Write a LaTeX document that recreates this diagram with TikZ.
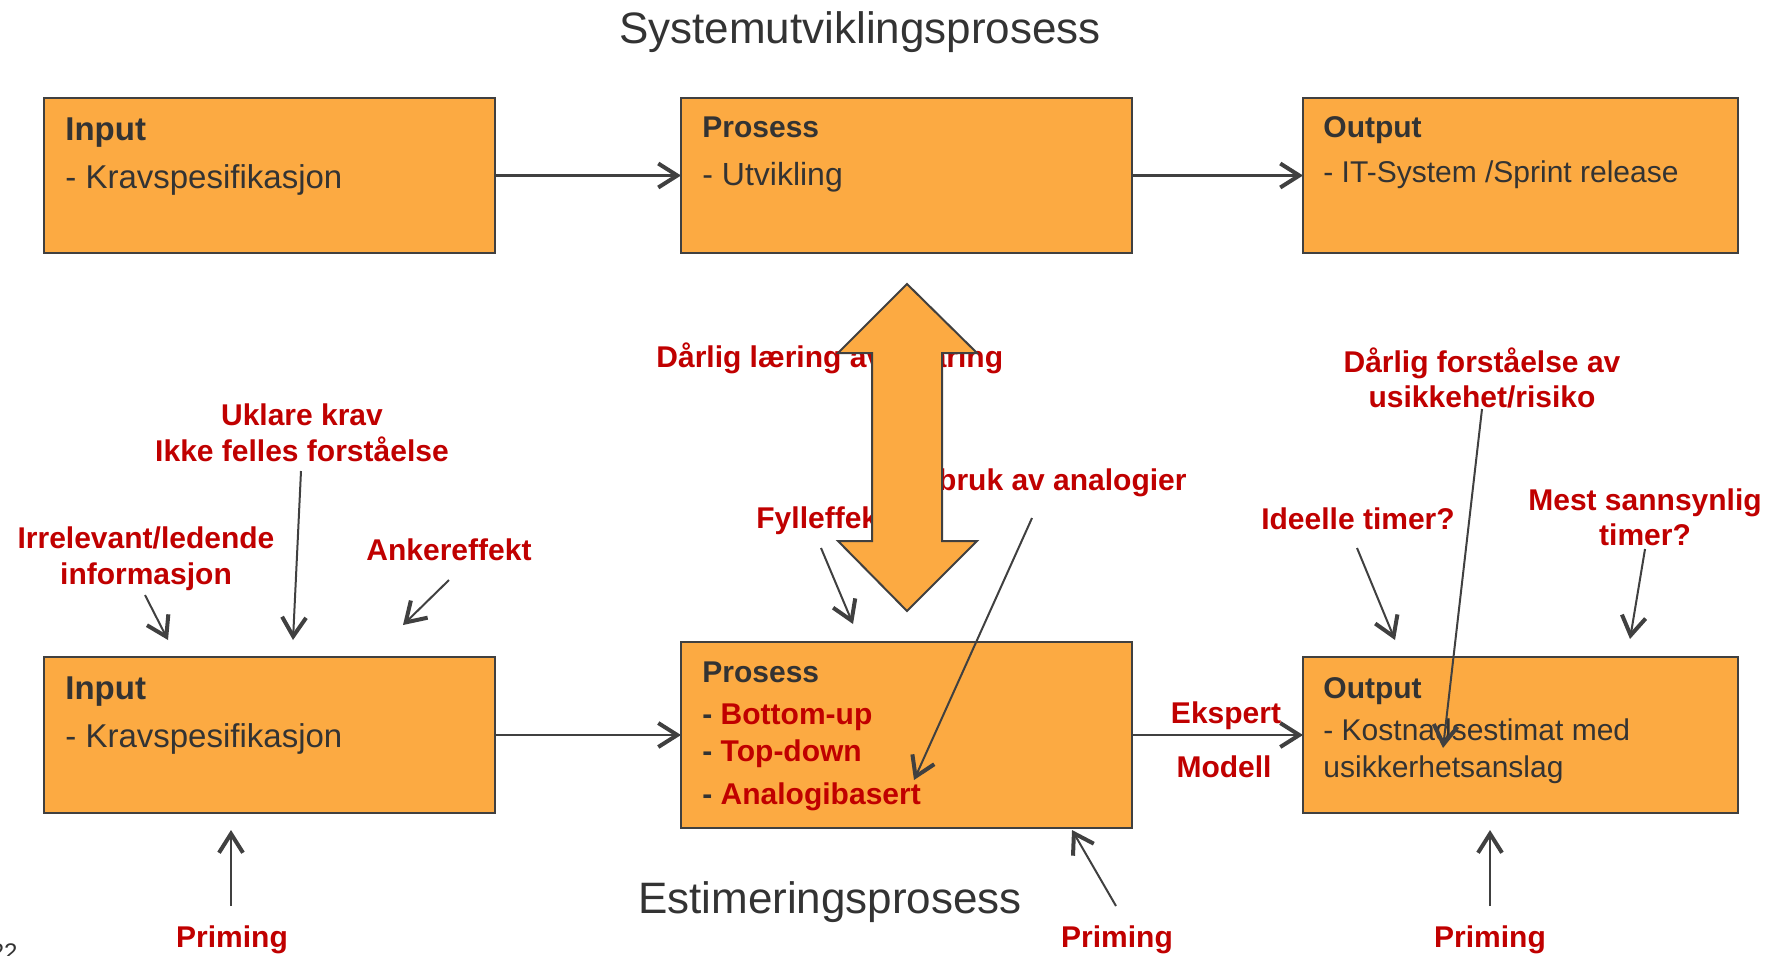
\documentclass[tikz,border=0pt]{standalone}
\usepackage{fontspec}
\setmainfont{Liberation Sans}
\usetikzlibrary{arrows.meta}
\definecolor{boxfill}{HTML}{FCAA42}
\definecolor{edgegray}{HTML}{404040}
\definecolor{txtgray}{HTML}{333333}
\definecolor{labred}{HTML}{C00000}
\newcommand\fTitle{\fontsize{22pt}{26pt}\selectfont}
\newcommand\fBig{\fontsize{16.5pt}{20pt}\selectfont}
\newcommand\fMid{\fontsize{16pt}{19pt}\selectfont}
\newcommand\fStd{\fontsize{15pt}{18pt}\selectfont}
\begin{document}
\begin{tikzpicture}[x=0.5pt,y=-0.5pt,
  box/.style={draw=edgegray, line width=1.25pt, fill=boxfill, rectangle, inner sep=0pt, outer sep=0pt, anchor=north west},
  conn/.style={draw=edgegray, line width=1.3pt, -{Straight Barb[length=9.5pt,width=12pt,line width=2pt]}},
  pointer/.style={draw=edgegray, line width=1pt, -{Straight Barb[length=9.5pt,width=12pt,line width=2pt]}},
  lbl/.style={font=\bfseries\fStd, text=labred, inner sep=0pt, anchor=base},
  boxhead/.style={font=\bfseries\fStd, text=txtgray, inner sep=0pt, anchor=base west},
  boxline/.style={font=\fStd, text=txtgray, inner sep=0pt, anchor=base west},
  ttl/.style={font=\fTitle, text=txtgray, inner sep=0pt, anchor=base}]
\useasboundingbox (0,0) rectangle (1780,955);
\clip (0,0) rectangle (1780,955);

% titles
\node[ttl] (title1) at (860,43) {Systemutviklingsprosess};
\node[ttl] (title2) at (830,913) {Estimeringsprosess};

% top row boxes
\node[box, minimum width=225.5pt, minimum height=77.5pt] (TI) at (44,98) {};
\node[box, minimum width=225.5pt, minimum height=77.5pt] (TP) at (681,98) {};
\node[box, minimum width=217.5pt, minimum height=77.5pt] (TO) at (1303,98) {};
\node[boxhead, font=\bfseries\fBig] (TIh) at (65,140) {Input};
\node[boxline, font=\fBig] (TIt) at (65,188) {- Kravspesifikasjon};
\node[boxhead] (TPh) at (702,137) {Prosess};
\node[boxline, font=\fMid] (TPt) at (702,185) {- Utvikling};
\node[boxhead] (TOh) at (1323,137) {Output};
\node[boxline] (TOt) at (1323,182) {- IT-System /Sprint release};
\draw[conn] (TI.east) -- (TP.west);
\draw[conn] (TP.east) -- (TO.west);

% bottom row boxes
\node[box, minimum width=225.5pt, minimum height=78pt] (BI) at (44,657) {};
\node[box, minimum width=225.5pt, minimum height=93pt] (BP) at (681,642) {};
\node[box, minimum width=217.5pt, minimum height=78pt] (BO) at (1303,657) {};
\node[boxhead, font=\bfseries\fBig] (BIh) at (65,699) {Input};
\node[boxline, font=\fBig] (BIt) at (65,747) {- Kravspesifikasjon};
\node[boxhead] (BPh) at (702,682) {Prosess};
\node[boxhead] (BP1) at (702,724) {- \textcolor{labred}{Bottom-up}};
\node[boxhead] (BP2) at (702,761) {- \textcolor{labred}{Top-down}};
\node[boxhead] (BP3) at (702,804) {- \textcolor{labred}{Analogibasert}};
\node[boxhead] (BOh) at (1323,698) {Output};
\node[boxline] (BOt1) at (1323,740) {- Kostnadsestimat med};
\node[boxline] (BOt2) at (1323,777) {usikkerhetsanslag};
\draw[conn] (BI.east) -- (BP.west);
\draw[conn] (BP.east) -- (BO.west);
\node[lbl] (eksp) at (1226,723) {Ekspert};
\node[lbl] (modl) at (1224,777) {Modell};

% red labels
\node[lbl] (ukl1) at (302,425) {Uklare krav};
\node[lbl] (ukl2) at (302,461) {Ikke felles forståelse};
\node[lbl] (irr1) at (146,548) {Irrelevant/ledende};
\node[lbl] (irr2) at (146,584) {informasjon};
\node[lbl] (ank) at (449,560) {Ankereffekt};
\node[lbl, anchor=base west] (darl) at (656,367) {Dårlig læring av erfaring};
\node[lbl, anchor=base east] (misb) at (1187,490) {Misbruk av analogier};
\node[lbl, anchor=base west] (fyll) at (756,528) {Fylleffekt};
\node[lbl] (usi1) at (1482,372) {Dårlig forståelse av};
\node[lbl] (usi2) at (1482,407) {usikkehet/risiko};
\node[lbl] (ide) at (1358,529) {Ideelle timer?};
\node[lbl] (mest1) at (1645,510) {Mest sannsynlig};
\node[lbl] (mest2) at (1645,545) {timer?};
\node[lbl] (pri1) at (232,947) {Priming};
\node[lbl] (pri2) at (1117,947) {Priming};
\node[lbl] (pri3) at (1490,947) {Priming};

% big double arrow (drawn over the labels)
\draw[fill=boxfill, draw=edgegray, line width=1pt, line join=miter]
  (907,284) -- (977,353) -- (942,353) -- (942,541) -- (977,541) -- (907,611)
  -- (838,541) -- (872,541) -- (872,353) -- (838,353) -- cycle;

% pointer arrows
\coordinate (uklS) at (301,471);  \coordinate (uklE) at (293,640);
\coordinate (irrS) at (145,595);  \coordinate (irrE) at (168,640);
\coordinate (ankS) at (449,580);  \coordinate (ankE) at (403,625);
\coordinate (fylS) at (821,548);  \coordinate (fylE) at (853,624);
\coordinate (misS) at (1032,518); \coordinate (misE) at (914,780);
\coordinate (usiS) at (1482,409); \coordinate (usiE) at (1443,748);
\coordinate (ideS) at (1357,548); \coordinate (ideE) at (1395,640);
\coordinate (mesS) at (1645,549); \coordinate (mesE) at (1630,639);
\coordinate (p1S) at (231,906);   \coordinate (p1E) at (231,830);
\coordinate (p2S) at (1116,906);  \coordinate (p2E) at (1072,830);
\coordinate (p3S) at (1490,906);  \coordinate (p3E) at (1490,830);
\draw[pointer] (uklS) -- (uklE);
\draw[pointer] (irrS) -- (irrE);
\draw[pointer] (ankS) -- (ankE);
\draw[pointer] (fylS) -- (fylE);
\draw[pointer] (misS) -- (misE);
\draw[pointer] (usiS) -- (usiE);
\draw[pointer] (ideS) -- (ideE);
\draw[pointer] (mesS) -- (mesE);
\draw[pointer] (p1S) -- (p1E);
\draw[pointer] (p2S) -- (p2E);
\draw[pointer] (p3S) -- (p3E);

% slide number, cut at the edge
\node[anchor=base east, font=\fontsize{12pt}{14pt}\selectfont, text=txtgray, inner sep=0pt] (pgnum) at (18,960) {22};
\end{tikzpicture}
\end{document}
